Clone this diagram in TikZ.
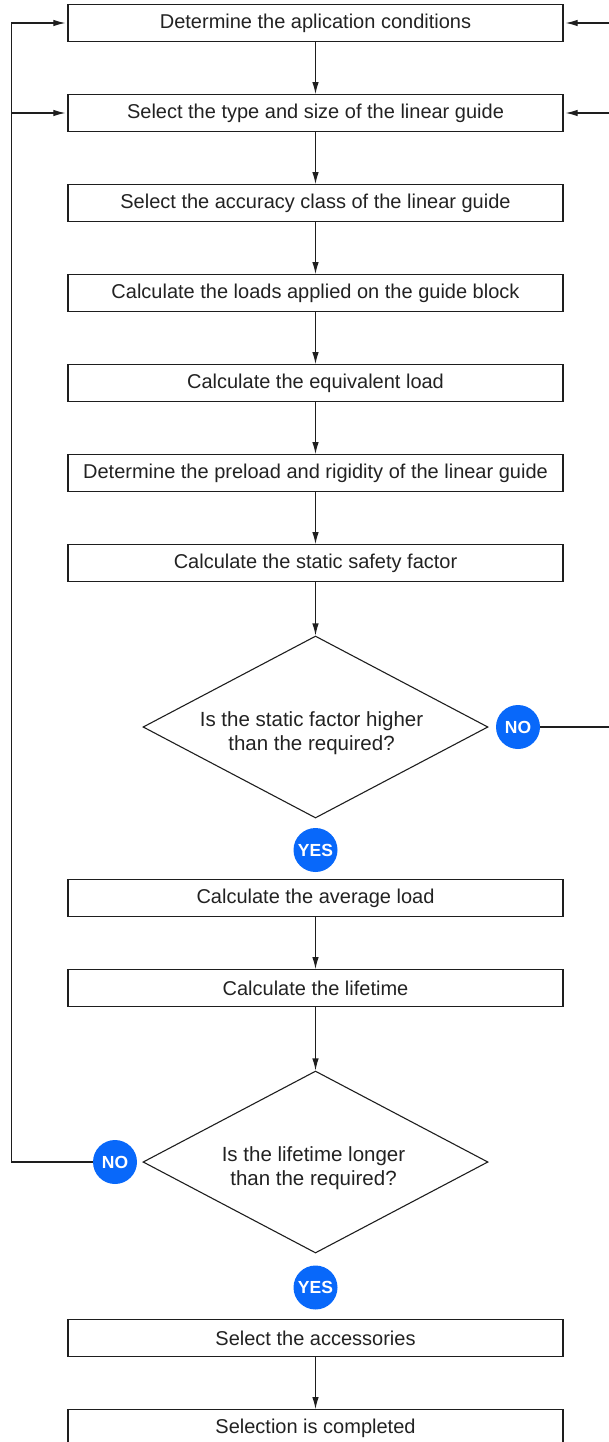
\documentclass[tikz,border=0pt]{standalone}
\usepackage{fontspec}
\setmainfont{Liberation Sans}
\usetikzlibrary{arrows.meta,shapes.geometric}
\definecolor{linec}{RGB}{30,30,30}
\definecolor{textc}{RGB}{34,34,34}
\definecolor{badgeblue}{RGB}{8,104,250}
\begin{document}
\begin{tikzpicture}[x=1pt,y=-1pt,
  stepbox/.style={draw=linec, line width=1.2pt, minimum width=495pt,
    minimum height=36.6pt, inner sep=0pt, text=textc,
    font=\fontsize{20}{24}\selectfont},
  decision/.style={draw=linec, line width=1.1pt, diamond, aspect=1.9,
    minimum width=345pt, minimum height=182pt, inner sep=0pt},
  qtext/.style={align=center, text=textc, inner sep=0pt,
    font=\fontsize{20.5}{24}\selectfont},
  badge/.style={circle, fill=badgeblue, minimum size=44pt, inner sep=0pt,
    text=white, font=\fontsize{17.5}{20}\selectfont\bfseries},
  flow/.style={draw=linec, line width=1.1pt, -{Latex[length=12pt,width=6.5pt]}},
  back/.style={flow, shorten >=2pt}]
\useasboundingbox (0,0) rectangle (608,1442);

% main column of steps
\node[stepbox] (b1) at (315.5,23) {Determine the aplication conditions};
\node[stepbox] (b2) at (315.5,113) {Select the type and size of the linear guide};
\node[stepbox] (b3) at (315.5,203) {Select the accuracy class of the linear guide};
\node[stepbox] (b4) at (315.5,293) {Calculate the loads applied on the guide block};
\node[stepbox] (b5) at (315.5,383) {Calculate the equivalent load};
\node[stepbox] (b6) at (315.5,473) {Determine the preload and rigidity of the linear guide};
\node[stepbox] (b7) at (315.5,563) {Calculate the static safety factor};

% first check
\node[decision] (d1) at (315.5,727) {};
\node[qtext] (d1t) at ([xshift=-4pt,yshift=-6pt]d1.center) {Is the static factor higher\\than the required?};
\node[badge] (no1) at (518,727) {NO};
\node[badge] (yes1) at (315.5,850) {YES};

\node[stepbox] (b8) at (315.5,898) {Calculate the average load};
\node[stepbox] (b9) at (315.5,988) {Calculate the lifetime};

% second check
\node[decision] (d2) at (315.5,1162) {};
\node[qtext] (d2t) at ([xshift=-2pt,yshift=-6pt]d2.center) {Is the lifetime longer\\than the required?};
\node[badge] (no2) at (115,1162) {NO};
\node[badge] (yes2) at (315.5,1287.5) {YES};

\node[stepbox] (b10) at (315.5,1338) {Select the accessories};
\node[stepbox] (b11) at (315.5,1428) {Selection is completed};

% forward connectors
\foreach \a/\b in {b1/b2,b2/b3,b3/b4,b4/b5,b5/b6,b6/b7,b8/b9,b10/b11}
  \draw[flow] (\a.south) -- (\b.north);
\draw[flow] (b7.south) -- (d1.north);
\draw[flow] (b9.south) -- (d2.north);

% feedback loops
\coordinate (rr) at (610,727);
\draw[back] (no1.east) -- (rr) |- (b1.east);
\draw[back] (rr |- b2.east) -- (b2.east);
\coordinate (ll) at (11.7,1162);
\draw[back] (no2.west) -- (ll) |- (b1.west);
\draw[back] (ll |- b2.west) -- (b2.west);
\end{tikzpicture}
\end{document}
